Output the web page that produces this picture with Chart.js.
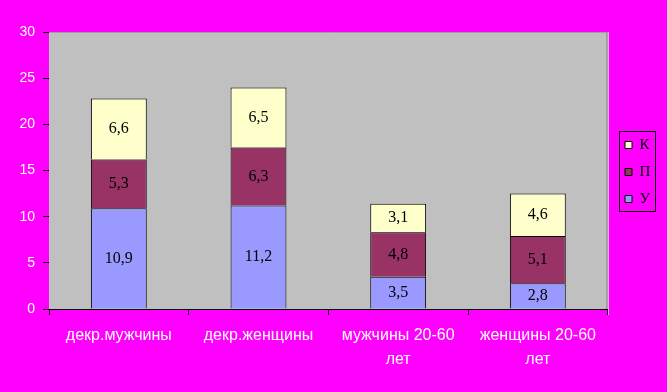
<!DOCTYPE html>
<html>
<head>
<meta charset="utf-8">
<script src="https://cdn.jsdelivr.net/npm/chart.js@4.4.1/dist/chart.umd.min.js"></script>
<style>
    html, body { margin: 0; padding: 0; background: #ff00ff; }
    #wrap { width: 667px; height: 392px; }
</style>
</head>
<body>
<div id="wrap"><canvas id="myChart" width="667" height="392"></canvas></div>
<script>
// Daten
const categories = [['декр.мужчины'], ['декр.женщины'], ['мужчины 20-60', 'лет'], ['женщины 20-60', 'лет']];
const seriesNames = ['У', 'П', 'К'];
const valuesU = [10.9, 11.2, 3.5, 2.8];
const valuesP = [5.3, 6.3, 4.8, 5.1];
const valuesK = [6.6, 6.5, 3.1, 4.6];
const yTicks = [0, 5, 10, 15, 20, 25, 30];

// graue Zeichenfläche
const plotBg = {
    id: 'plotBg',
    beforeDraw(chart) {
        const a = chart.chartArea;
        const ctx = chart.ctx;
        ctx.save();
        ctx.fillStyle = '#c0c0c0';
        ctx.fillRect(a.left, a.top, a.right - a.left, a.bottom - a.top);
        ctx.strokeStyle = '#a0a0a0';
        ctx.lineWidth = 1;
        ctx.beginPath();
        ctx.moveTo(a.left, a.top + 0.5);
        ctx.lineTo(a.right, a.top + 0.5);
        ctx.stroke();
        ctx.strokeStyle = '#606060';
        ctx.beginPath();
        ctx.moveTo(a.right - 0.5, a.top);
        ctx.lineTo(a.right - 0.5, a.bottom);
        ctx.stroke();
        ctx.strokeStyle = '#ffffff';
        ctx.beginPath();
        ctx.moveTo(a.right + 0.5, a.top);
        ctx.lineTo(a.right + 0.5, a.bottom + 6);
        ctx.stroke();
        ctx.restore();
    }
};

// Werte in die Balken schreiben
const barLabels = {
    id: 'barLabels',
    afterDatasetsDraw(chart) {
        const ctx = chart.ctx;
        ctx.save();
        ctx.font = '16px "Liberation Serif"';
        ctx.fillStyle = '#000';
        ctx.textAlign = 'center';
        ctx.textBaseline = 'middle';
        chart.data.datasets.forEach((ds, i) => {
            chart.getDatasetMeta(i).data.forEach((bar, j) => {
                const txt = String(ds.data[j]).replace('.', ',');
                ctx.fillText(txt, bar.x, (bar.y + bar.base) / 2);
            });
        });
        ctx.restore();
    }
};

// Legende verschieben und umrahmen
const legendBox = {
    id: 'legendBox',
    afterLayout(chart) {
        const lg = chart.legend;
        const pad = lg.options.labels.padding;
        const dx = 625 - (lg.left + pad);
        lg.left += dx; lg.right += dx;
        const mid = (lg.top + lg.bottom) / 2;
        const dy = 172 - mid;
        lg.top += dy; lg.bottom += dy;
    },
    afterDraw(chart) {
        const boxes = chart.legend.legendHitBoxes;
        if (!boxes || !boxes.length) return;
        const first = boxes[0], last = boxes[boxes.length - 1];
        const l = Math.round(first.left - 6);
        const t = Math.round(first.top + first.height / 2 - 14);
        const b = Math.round(last.top + last.height / 2 + 12);
        const ctx = chart.ctx;
        ctx.save();
        ctx.strokeStyle = '#000';
        ctx.lineWidth = 1;
        ctx.strokeRect(l + 0.5, t + 0.5, 36, b - t);
        ctx.restore();
    }
};

const config = {
    type: 'bar',
    data: {
        labels: categories,
        datasets: [
            { label: seriesNames[0], data: valuesU, backgroundColor: '#9999ff', borderColor: '#000', borderWidth: 1 },
            { label: seriesNames[1], data: valuesP, backgroundColor: '#993366', borderColor: '#000', borderWidth: 1 },
            { label: seriesNames[2], data: valuesK, backgroundColor: '#ffffcc', borderColor: '#000', borderWidth: 1 }
        ]
    },
    options: {
        responsive: false,
        animation: false,
        barPercentage: 0.4,
        categoryPercentage: 1,
        layout: { padding: { top: 32, right: 12, left: 0, bottom: 0 } },
        plugins: {
            tooltip: { enabled: false },
            legend: {
                position: 'right',
                reverse: true,
                labels: {
                    boxWidth: 7,
                    boxHeight: 7,
                    padding: 12,
                    color: '#000',
                    font: { family: '"Liberation Serif"', size: 15 }
                }
            }
        },
        scales: {
            x: {
                stacked: true,
                afterFit: s => { s.height = 83; },
                grid: { display: true, offset: true, drawOnChartArea: false, drawTicks: true, tickLength: 6, color: '#000' },
                border: { display: true, color: '#000' },
                ticks: {
                    color: '#fff',
                    padding: 9,
                    maxRotation: 0,
                    font: { family: '"Liberation Sans"', size: 16, lineHeight: 1.5 }
                }
            },
            y: {
                stacked: true,
                min: 0,
                max: 30,
                afterFit: s => { s.width = 49; },
                afterBuildTicks: s => { s.ticks = yTicks.map(v => ({ value: v })); },
                grid: { display: true, drawOnChartArea: false, drawTicks: true, tickLength: 6, color: '#000' },
                border: { display: false },
                ticks: {
                    color: '#fff',
                    padding: 8,
                    font: { family: '"Liberation Sans"', size: 14 }
                }
            }
        }
    },
    plugins: [plotBg, barLabels, legendBox]
};

const ctx = document.querySelector('#myChart').getContext('2d');
new Chart(ctx, config);
</script>
</body>
</html>
